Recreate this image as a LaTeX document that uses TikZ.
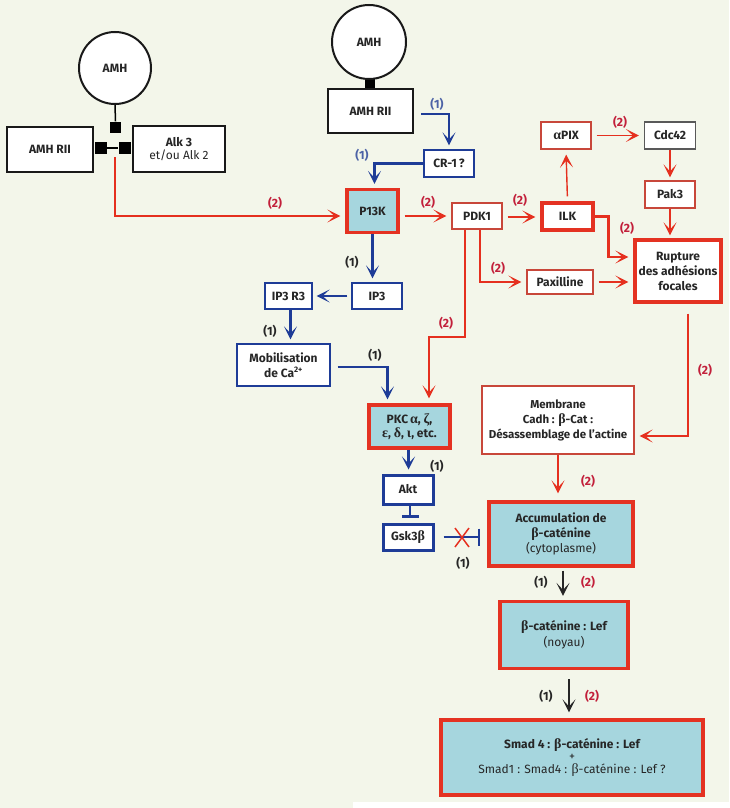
\documentclass[tikz,border=0pt]{standalone}
\usepackage{fontspec}
\setmainfont{Fira Sans}
\newfontfamily\grk{Liberation Serif}
\newcommand{\gk}[1]{{\grk\fontsize{14}{14}\selectfont #1}}
\usetikzlibrary{arrows.meta,calc}
\definecolor{bgc}{HTML}{F3F6EA}
\definecolor{cyanf}{HTML}{A6D6DE}
\definecolor{thickr}{HTML}{E43222}
\definecolor{thinr}{HTML}{C8473A}
\definecolor{arrr}{HTML}{E5301F}
\definecolor{labr}{HTML}{C21F3A}
\definecolor{blu}{HTML}{1E3C97}
\definecolor{blugrey}{HTML}{4C62A6}
\definecolor{txt}{HTML}{262626}
\begin{document}
\begin{tikzpicture}[x=1pt,y=-1pt,
  font=\bfseries\fontsize{12}{14.5}\selectfont,
  box/.style={draw, rectangle, inner sep=0pt, align=center, fill=white, text=txt},
  thinred/.style={box, draw=thinr, line width=1.2pt},
  thickred/.style={box, draw=thickr, line width=3.2pt},
  cyanbox/.style={thickred, fill=cyanf},
  blueb/.style={box, draw=blu, line width=1.2pt},
  blueB/.style={box, draw=blu, line width=3pt},
  blackB/.style={box, draw=black!90, line width=2.8pt},
  greyb/.style={box, draw=black!65, line width=1.2pt},
  tip/.style={-{Stealth[length=13pt,width=13pt,inset=7pt]}},
  ra/.style={draw=arrr, line width=1.4pt, tip, shorten >=5pt, shorten <=5pt},
  raT/.style={draw=arrr, line width=2.6pt, tip, shorten >=5pt},
  ba/.style={draw=blu, line width=2.4pt, tip, shorten >=4pt, shorten <=4pt},
  ka/.style={draw=black!85, line width=2pt, tip},
  lab1/.style={text=txt},
  lab1b/.style={text=blugrey},
  lab2/.style={text=labr},
  sq/.style={fill=black, inner sep=0pt, minimum size=12pt}
]
\useasboundingbox (0,0) rectangle (729,808);
\fill[bgc] (0,0) rectangle (729,808);
\fill[white] (353,802) rectangle (729,808);

% ---- left receptor group
\node[sq, minimum size=11pt] (sq1) at (115.5,127) {};
\node[circle, draw=black!90, line width=2pt, fill=white, minimum size=72pt, inner sep=0pt, text=txt] (amhL) at (115,68) {AMH};
\draw[line width=1.5pt] (amhL.south) -- (sq1.north);
\node[blackB, minimum width=86pt, minimum height=45pt] (riiL) at (50,149.5) {AMH RII};
\node[blackB, minimum width=92pt, minimum height=46pt] (alk) at (179,149) {Alk 3\\[-1pt]{\mdseries et/ou Alk 2}};
\node[sq] (sqL) at (101,148) {};
\node[sq] (sqR) at (124.5,148) {};
\draw[line width=1.5pt] (sqL.east) -- (sqR.west);
\coordinate (lstart) at (115,157);

% ---- middle receptor group
\node[fill=black, inner sep=0pt, minimum width=10pt, minimum height=16pt] (stem) at (370,83) {};
\node[circle, draw=black!90, line width=2pt, fill=white, minimum size=74pt, inner sep=0pt, text=txt] (amhM) at (369,42) {AMH};
\node[blackB, minimum width=85pt, minimum height=44pt] (riiM) at (370.5,111) {AMH RII};
\node[blueb, minimum width=50pt, minimum height=27pt] (cr1) at (449,163.5) {CR-1\,?};

% ---- PI3K pathway
\node[cyanbox, minimum width=51pt, minimum height=43pt] (pi3k) at (372.5,211) {P13K};
\node[thinred, minimum width=50pt, minimum height=26pt] (pdk1) at (477,216) {PDK1};
\node[thickred, minimum width=51pt, minimum height=27pt] (ilk) at (567.5,216.5) {ILK};
\node[thinred, minimum width=50pt, minimum height=27pt] (apix) at (566,135.5) {\gk{α}PIX};
\node[greyb, minimum width=51pt, minimum height=27pt] (cdc) at (670,135.5) {Cdc42};
\node[thinred, minimum width=50pt, minimum height=27pt] (pak3) at (670,194.5) {Pak3};
\node[thickred, minimum width=86pt, minimum height=62pt, font=\bfseries\fontsize{12}{15}\selectfont] (rupt) at (678,271) {Rupture\\des adhésions\\focales};
\node[thinred, minimum width=66pt, minimum height=24pt] (paxi) at (560,282) {Paxilline};

\node[blueb, minimum width=50pt, minimum height=26pt] (ip3) at (377,296) {IP3};
\node[blueb, minimum width=47pt, minimum height=26pt] (ip3r) at (288.5,296) {IP3 R3};
\node[blueb, minimum width=93pt, minimum height=42pt] (mob) at (283.5,365) {Mobilisation\\de Ca\textsuperscript{2+}};
\node[cyanbox, minimum width=81pt, minimum height=43pt] (pkc) at (409.5,426.5) {PKC\,\gk{α}, \gk{ζ},\\\gk{ε}, \gk{δ}, \gk{ι}, etc.};
\node[blueB, minimum width=50pt, minimum height=29pt] (akt) at (408,489.5) {Akt};
\node[blueB, minimum width=50pt, minimum height=26pt] (gsk) at (408,537) {Gsk3\gk{β}};

\node[thinred, minimum width=152pt, minimum height=68pt, font=\bfseries\fontsize{11.5}{15}\selectfont] (memb) at (558,420) {Membrane\\Cadh : \gk{β}-Cat :\\Désassemblage de l'actine};
\node[cyanbox, minimum width=144pt, minimum height=64pt, font=\bfseries\fontsize{12}{15}\selectfont] (acc) at (561,534) {Accumulation de\\\gk{β}-caténine\\{\mdseries (cytoplasme)}};
\node[cyanbox, minimum width=128pt, minimum height=67pt, font=\bfseries\fontsize{12}{16}\selectfont] (lef) at (564,635) {\gk{β}-caténine : Lef\\{\mdseries (noyau)}};
\node[cyanbox, minimum width=262pt, minimum height=75pt, font=\bfseries\fontsize{12}{15}\selectfont] (smad) at (572,757.5) {Smad 4 : \gk{β}-caténine : Lef\\[-3pt]{\mdseries +}\\[-2pt]{\mdseries Smad1 : Smad4 : {\mdseries\grk\fontsize{14}{14}\selectfont β}-caténine : Lef ?}};

% ---- connectors
\draw[ra, shorten <=0pt] (lstart) |- ([yshift=-5pt]pi3k.west);
\draw[ba, shorten <=7pt] ([yshift=-3pt]riiM.east) -| (cr1.north);
\draw[ba, shorten <=0pt] (cr1.west) -| ([xshift=2pt]pi3k.north);
\draw[ra] ([yshift=-5pt]pi3k.east) -- ([yshift=-5pt]pi3k.east -| pdk1.west);
\draw[ra] ([yshift=-1pt]pdk1.east) -- ([yshift=-1pt]pdk1.east -| ilk.west);
\draw[ra] (ilk.north) -- (apix.south);
\draw[ra] (apix.east) -- (cdc.west);
\draw[ra, shorten <=0pt, shorten >=3pt] (cdc.south) -- (pak3.north);
\draw[ra, shorten <=0pt, shorten >=3pt] (pak3.south) -- (pak3.south |- rupt.north);
\draw[raT] (ilk.east) -- ++(14,0) |- ([yshift=14pt]rupt.west);
\draw[ra, shorten <=0pt] ([xshift=3pt]pdk1.south) |- (paxi.west);
\draw[ra] (paxi.east) -- (paxi.east -| rupt.west);
\coordinate (pk1) at (429,337);
\draw[ra, shorten <=0pt] ([xshift=-12pt]pdk1.south) |- (pk1) -- (pk1 |- pkc.north);

\draw[ba, shorten <=0pt] (pi3k.south) -- (pi3k.south |- ip3.north);
\draw[ba] (ip3.west) -- (ip3r.east);
\draw[ba, shorten <=0pt] ([xshift=2pt]ip3r.south) -- ([xshift=2pt]ip3r.south |- mob.north);
\draw[ba, shorten <=7pt] ([yshift=-2pt]mob.east) -| ([xshift=-22pt]pkc.north);
\draw[ba, shorten <=0pt] ([xshift=-1pt]pkc.south) -- ([xshift=-1pt]pkc.south |- akt.north);
\draw[draw=blu, line width=2.4pt, -{Bar[width=17pt,line width=2.4pt]}, shorten >=5pt] ([xshift=2pt]akt.south) -- ([xshift=2pt]akt.south |- gsk.north);
\draw[draw=blu, line width=2.4pt, -{Bar[width=17pt,line width=2.4pt]}, shorten <=9pt, shorten >=7pt] (gsk.east) -- (gsk.east -| acc.west);
\draw[draw=arrr, line width=1.5pt] (455,528) -- (469,547) (455,547) -- (469,528);

\draw[ra, line width=1.6pt, shorten <=10pt] ([xshift=10pt]rupt.south) |- ([yshift=-16pt]memb.east);
\draw[ra, line width=1.6pt, shorten <=0pt, shorten >=7pt] (memb.south) -- (memb.south |- acc.north);
\draw[ka, shorten <=3pt, shorten >=4pt] ([xshift=2pt]acc.south) -- ([xshift=2pt]acc.south |- lef.north);
\draw[ka, shorten <=9pt, shorten >=6pt] ([xshift=5pt]lef.south) -- ([xshift=5pt]lef.south |- smad.north);

% ---- labels
\node[lab1b] at (437,104) {(1)};
\node[lab1b] at (362,155) {(1)};
\node[lab2] at (275,203) {(2)};
\node[lab2] at (428,202) {(2)};
\node[lab2] at (520,200) {(2)};
\node[lab2] at (620,122) {(2)};
\node[lab2] at (627,228) {(2)};
\node[lab2] at (498,268) {(2)};
\node[lab2] at (446,323) {(2)};
\node[lab2] at (705,370) {(2)};
\node[lab2] at (588,481) {(2)};
\node[lab2] at (588,582) {(2)};
\node[lab2] at (592,696) {(2)};
\node[lab1] at (352,262) {(1)};
\node[lab1] at (270,331) {(1)};
\node[lab1] at (375,355) {(1)};
\node[lab1] at (437,466) {(1)};
\node[lab1] at (463,563) {(1)};
\node[lab1] at (541,582) {(1)};
\node[lab1] at (546,696) {(1)};
\end{tikzpicture}
\end{document}
